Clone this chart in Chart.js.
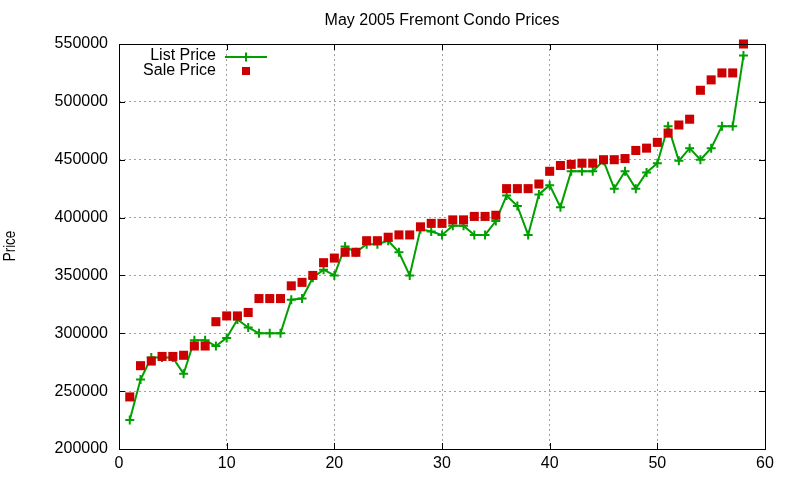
<!DOCTYPE html>
<html lang="en">
<head>
<meta charset="UTF-8">
<title>May 2005 Fremont Condo Prices</title>
<style>
  html, body { margin: 0; padding: 0; background: #fff; }
  #chart { display: block; }
</style>
</head>
<body>
<canvas id="chart" width="800" height="480"></canvas>
<script src="https://cdn.jsdelivr.net/npm/chart.js"></script>
<script>
// listing number on the x axis
var unitNo = [1, 2, 3, 4, 5, 6, 7, 8, 9, 10, 11, 12, 13, 14, 15, 16, 17, 18, 19, 20,
              21, 22, 23, 24, 25, 26, 27, 28, 29, 30, 31, 32, 33, 34, 35, 36, 37, 38, 39, 40,
              41, 42, 43, 44, 45, 46, 47, 48, 49, 50, 51, 52, 53, 54, 55, 56, 57, 58];

var listPrice = [225000, 260000, 279000, 279000, 279000, 265000, 294000, 294000, 289000, 296000,
                 312000, 305000, 300000, 300000, 300000, 329000, 330000, 348000, 355000, 350000,
                 375000, 370000, 377000, 377000, 380000, 370000, 350000, 390000, 388000, 385000,
                 393000, 393000, 385000, 385000, 397000, 419000, 410000, 385000, 420000, 428000,
                 409000, 440000, 440000, 440000, 449000, 425000, 440000, 425000, 439000, 447000,
                 479000, 449000, 460000, 450000, 460000, 479000, 479000, 540000];

var salePrice = [245000, 272000, 276000, 280000, 280000, 281000, 289000, 289000, 310000, 315000,
                 315000, 318000, 330000, 330000, 330000, 341000, 344000, 350000, 361000, 365000,
                 370000, 370000, 380000, 380000, 383000, 385000, 385000, 392000, 395000, 395000,
                 398000, 398000, 401000, 401000, 402000, 425000, 425000, 425000, 429000, 440000,
                 445000, 446000, 447000, 447000, 450000, 450000, 451000, 458000, 460000, 465000,
                 473000, 480000, 485000, 510000, 519000, 525000, 525000, 550000];

var xTicks = [0, 10, 20, 30, 40, 50, 60];
var yTicks = [200000, 250000, 300000, 350000, 400000, 450000, 500000, 550000];

var seriesNames = ['List Price', 'Sale Price'];
var titleText = 'May 2005 Fremont Condo Prices';
var yLabel = 'Price';

var GREEN = '#00a000';
var RED = '#cc0000';
var FONT = '"Liberation Sans", Arial, sans-serif';

function pairs(ys) {
    var out = [];
    for (var i = 0; i < unitNo.length; i++) {
        out.push({ x: unitNo[i], y: ys[i] });
    }
    return out;
}

// gnuplot-like frame, inward ticks, title, ylabel and key
var gnuplotBits = {
    id: 'gnuplotBits',
    afterDraw: function (chart) {
        var ctx = chart.ctx;
        var a = chart.chartArea;
        var xs = chart.scales.x;
        var ys = chart.scales.y;
        var tl = 6;

        ctx.save();
        ctx.strokeStyle = '#000';
        ctx.lineWidth = 1;
        ctx.setLineDash([]);
        ctx.beginPath();
        xTicks.forEach(function (v) {
            var px = Math.round(xs.getPixelForValue(v)) + 0.5;
            ctx.moveTo(px, a.bottom); ctx.lineTo(px, a.bottom - tl);
            ctx.moveTo(px, a.top); ctx.lineTo(px, a.top + tl);
        });
        yTicks.forEach(function (v) {
            var py = Math.round(ys.getPixelForValue(v)) + 0.5;
            ctx.moveTo(a.left, py); ctx.lineTo(a.left + tl, py);
            ctx.moveTo(a.right, py); ctx.lineTo(a.right - tl, py);
        });
        ctx.stroke();
        ctx.strokeRect(Math.round(a.left) + 0.5, Math.round(a.top) + 0.5,
                       Math.round(a.right - a.left), Math.round(a.bottom - a.top));

        ctx.fillStyle = '#000';
        ctx.font = '16px ' + FONT;
        ctx.textAlign = 'center';
        ctx.textBaseline = 'middle';
        ctx.fillText(titleText, (a.left + a.right) / 2, 21);

        ctx.save();
        ctx.translate(11, 246);
        ctx.rotate(-Math.PI / 2);
        ctx.scale(0.84, 1);
        ctx.fillText(yLabel, 0, 0);
        ctx.restore();

        // key
        ctx.textAlign = 'right';
        ctx.fillText(seriesNames[0], 216, 56);
        ctx.fillText(seriesNames[1], 216, 71);

        ctx.strokeStyle = GREEN;
        ctx.lineWidth = 2;
        ctx.beginPath();
        ctx.moveTo(225, 57); ctx.lineTo(267, 57);
        ctx.moveTo(246, 52.5); ctx.lineTo(246, 61.5);
        ctx.stroke();

        ctx.fillStyle = RED;
        ctx.fillRect(242, 67, 8, 8);
        ctx.restore();
    }
};

new Chart(document.getElementById('chart'), {
    type: 'line',
    data: {
        datasets: [{
            label: seriesNames[0],
            data: pairs(listPrice),
            borderColor: GREEN,
            backgroundColor: GREEN,
            borderWidth: 2,
            pointStyle: 'cross',
            pointRadius: 4.5,
            pointBorderWidth: 2,
            tension: 0,
            fill: false,
            clip: false,
            order: 2
        }, {
            label: seriesNames[1],
            data: pairs(salePrice),
            showLine: false,
            pointStyle: 'rect',
            pointRadius: 6.4,
            pointBorderWidth: 0,
            pointBackgroundColor: RED,
            pointBorderColor: RED,
            borderColor: RED,
            backgroundColor: RED,
            clip: false,
            order: 1
        }]
    },
    options: {
        responsive: false,
        animation: false,
        events: [],
        layout: { padding: { top: 44, right: 35, left: 0, bottom: 0 } },
        plugins: {
            legend: { display: false },
            title: { display: false },
            tooltip: { enabled: false }
        },
        scales: {
            x: {
                type: 'linear',
                min: 0,
                max: 60,
                afterFit: function (s) { s.height = 31; },
                afterBuildTicks: function (s) { s.ticks = xTicks.map(function (v) { return { value: v }; }); },
                grid: { color: '#a0a0a0', lineWidth: 1, drawTicks: false },
                border: { display: false, dash: [2, 3] },
                ticks: {
                    color: '#000',
                    padding: 5,
                    maxRotation: 0,
                    font: { family: FONT, size: 16 }
                }
            },
            y: {
                type: 'linear',
                min: 200000,
                max: 550000,
                afterFit: function (s) { s.width = 119; },
                afterBuildTicks: function (s) { s.ticks = yTicks.map(function (v) { return { value: v }; }); },
                grid: { color: '#a0a0a0', lineWidth: 1, drawTicks: false },
                border: { display: false, dash: [2, 3] },
                ticks: {
                    color: '#000',
                    padding: 11,
                    font: { family: FONT, size: 16 },
                    callback: function (v) { return String(v); }
                }
            }
        }
    },
    plugins: [gnuplotBits]
});
</script>
</body>
</html>
